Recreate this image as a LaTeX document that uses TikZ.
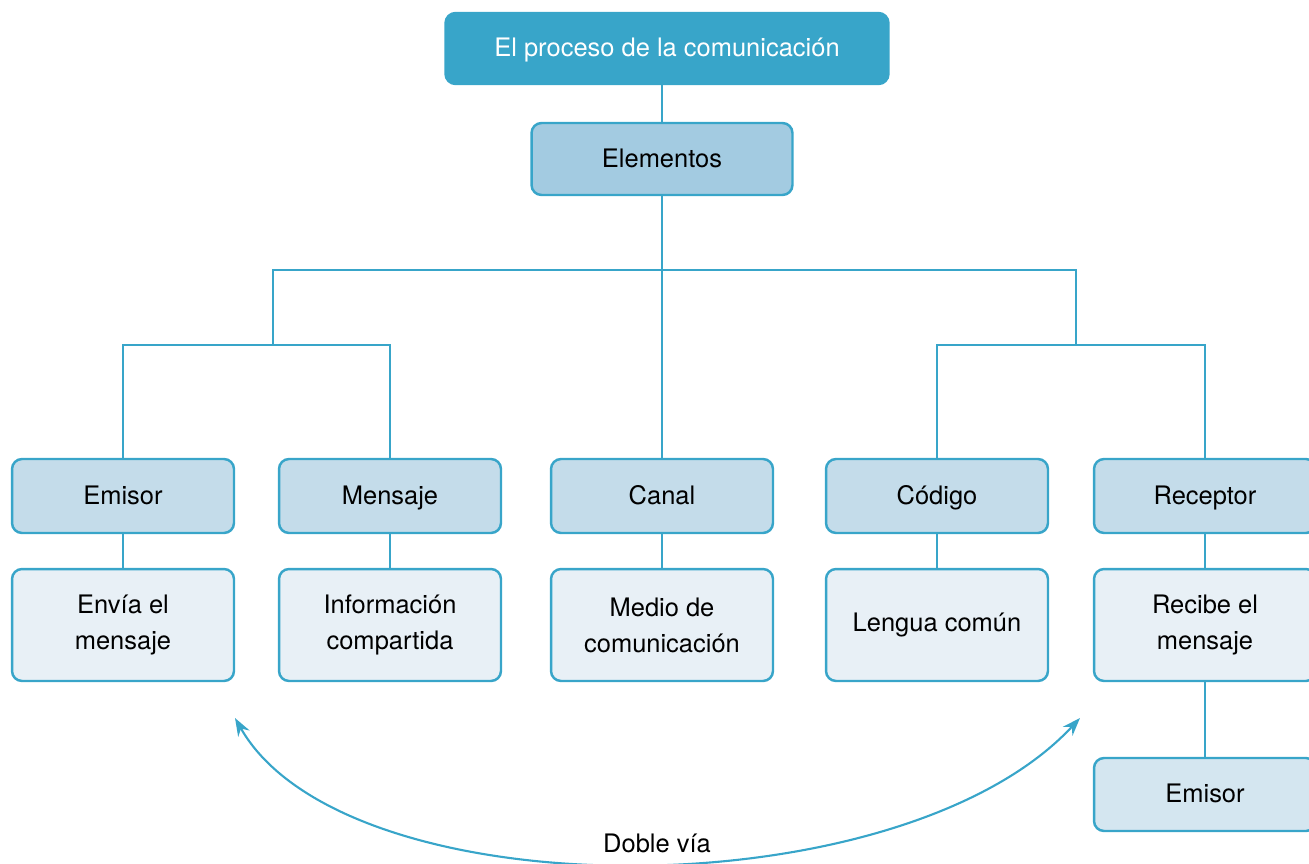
\documentclass[tikz,border=0pt]{standalone}
\usepackage{fontspec}
\setmainfont{TeX Gyre Heros}
\usetikzlibrary{arrows.meta}

\definecolor{azulOsc}{HTML}{38A5C9}
\definecolor{azulElem}{HTML}{A3CBE1}
\definecolor{azulMed}{HTML}{C4DCEA}
\definecolor{azulClaro}{HTML}{E8F0F6}
\definecolor{azulFin}{HTML}{D4E6F0}

\tikzset{
  caja/.style={draw=azulOsc, line width=1.4pt, rounded corners=0.2cm,
    align=center, inner sep=0pt, font=\fontsize{14.5}{20.5}\selectfont},
  unaLinea/.style={text height=0.95em, text depth=0pt},
  cajaTitulo/.style={caja, unaLinea, fill=azulOsc, text=white,
    minimum width=8.86cm, minimum height=1.42cm},
  cajaElem/.style={caja, unaLinea, fill=azulElem, minimum width=5.22cm, minimum height=1.44cm},
  cajaTipo/.style={caja, unaLinea, fill=azulMed, minimum width=4.44cm, minimum height=1.48cm},
  cajaDesc/.style={caja, fill=azulClaro, minimum width=4.44cm, minimum height=2.24cm,
    execute at begin node=\vspace*{0.18cm}},
  linea/.style={draw=azulOsc, line width=1.4pt},
  punta/.tip={Stealth[length=0.36cm,width=0.26cm]},
}

\begin{document}
\begin{tikzpicture}[x=0.02cm, y=-0.02cm]
  \useasboundingbox (0,0) rectangle (1309,863);

  \node[cajaTitulo] (titulo) at (667,48.5) {El proceso de la comunicación};
  \node[cajaElem] (elementos) at (662,159) {Elementos};

  % elementos
  \node[cajaTipo] (emisor) at (123,496) {Emisor};
  \node[cajaTipo] (mensaje) at (390,496) {Mensaje};
  \node[cajaTipo] (canal) at (662,496) {Canal};
  \node[cajaTipo] (codigo) at (937,496) {Código};
  \node[cajaTipo] (receptor) at (1205,496) {Receptor};

  % descripciones
  \node[cajaDesc] (envia) at (123,625) {Envía el\\mensaje};
  \node[cajaDesc] (info) at (390,625) {Información\\compartida};
  \node[cajaDesc] (medio) at (662,625) {Medio de\\comunicación};
  \node[cajaDesc] (lengua) at (937,625) {Lengua común};
  \node[cajaDesc] (recibe) at (1205,625) {Recibe el\\mensaje};
  \node[cajaTipo, fill=azulFin, minimum height=1.46cm] (emisorFin) at (1205,794.5) {Emisor};

  \coordinate (ramaI) at (273,345);
  \coordinate (ramaD) at (1076,345);

  \draw[linea] (elementos.north) -- (elementos.north |- titulo.south);
  \draw[linea] (elementos) -- (canal);
  \draw[linea] (ramaI) -- ++(0,-75) -| (ramaD);
  \draw[linea] (emisor.north) |- (ramaI) -| (mensaje.north);
  \draw[linea] (codigo.north) |- (ramaD) -| (receptor.north);
  \draw[linea] (emisor) -- (envia);
  \draw[linea] (mensaje) -- (info);
  \draw[linea] (canal) -- (medio);
  \draw[linea] (codigo) -- (lengua);
  \draw[linea] (receptor) -- (recibe);
  \draw[linea] (recibe) -- (emisorFin);

  % doble via
  \coordinate (flechaI) at (235,718);
  \coordinate (flechaD) at (1080,718);
  \draw[linea, line width=1.2pt, punta-punta]
    (flechaI) .. controls (345,912) and (900,912) .. (flechaD);
  \node[fill=white, inner sep=2pt, font=\fontsize{14.5}{17}\selectfont] (doble) at (657,843) {Doble vía};
\end{tikzpicture}
\end{document}
